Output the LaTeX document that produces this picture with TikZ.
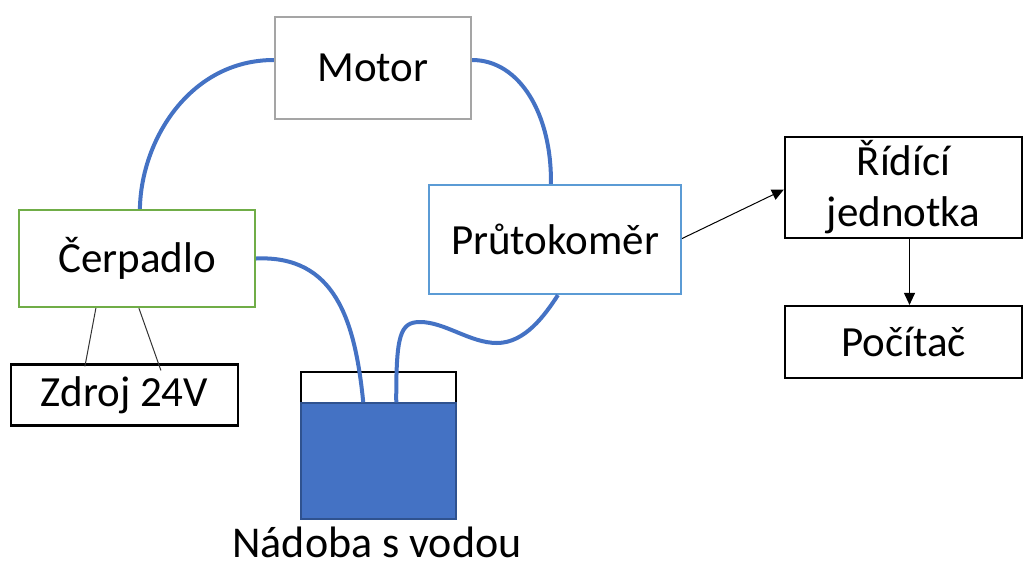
\documentclass[tikz,border=0pt]{standalone}
\usepackage{fontspec}
\setmainfont{Carlito}
\usetikzlibrary{calc,arrows.meta}
\definecolor{pipe}{HTML}{4472C4}
\definecolor{motorgray}{HTML}{A5A5A5}
\definecolor{pumpgreen}{HTML}{70AD47}
\definecolor{flowblue}{HTML}{5B9BD5}
\definecolor{waterborder}{HTML}{2F528F}
\begin{document}
\begin{tikzpicture}[x=1pt,y=-1pt,
  box/.style={draw, line width=2.2pt, inner sep=0pt, align=center, font=\fontsize{43}{51}\selectfont},
  pipeline/.style={draw=pipe, line width=4pt},
  wire/.style={draw=black!80, line width=1pt},
  sig/.style={draw=black, line width=1pt, -{Triangle[length=12pt,width=11pt]}}]
\useasboundingbox (0,0) rectangle (1024,566);
\node[box, draw=motorgray, minimum width=196pt, minimum height=102pt] (motor) at (373,68) {Motor};
\node[box, draw=pumpgreen, minimum width=236pt, minimum height=97pt] (cerp) at (137,258.5) {Čerpadlo};
\node[box, minimum width=227pt, minimum height=61pt] (zdroj) at (124.5,395) {Zdroj 24V};
\node[box, draw=flowblue, minimum width=252pt, minimum height=109pt] (prut) at (555,239.5) {Průtokoměr};
\node[box, minimum width=237pt, minimum height=101pt] (ridici) at (903.5,187.5) {Řídící\\jednotka};
\node[box, minimum width=237pt, minimum height=72pt] (pocitac) at (903.5,342) {Počítač};
% tank
\node[draw=black, line width=2.2pt, fill=white, inner sep=0pt, minimum width=155pt, minimum height=31pt] (tanktop) at (378.5,387.5) {};
\node[draw=waterborder, line width=1.5pt, fill=pipe, inner sep=0pt, minimum width=155pt, minimum height=116pt] (water) at (378.5,461) {};
\node[font=\fontsize{44}{50}\selectfont, anchor=base, inner sep=0pt] (label) at (377,557) {Nádoba s vodou};
% pipes
\draw[pipeline] ($(cerp.north west)+(122,0)$) .. controls (141,140) and (190,60) .. ($(motor.west)+(0,-8)$);
\draw[pipeline] ($(motor.east)+(0,-8)$) .. controls (520,60) and (552,115) .. ($(prut.north west)+(123,0)$);
\draw[pipeline] ($(cerp.east)+(0,0)$) .. controls (335,255) and (355,320) .. ($(water.north west)+(63,0)$);
\draw[pipeline] ($(water.north west)+(96,0)$) .. controls (396,335) and (400,322) .. (420,322)
  .. controls (445,322) and (470,343) .. (497,343)
  .. controls (525,343) and (545,315) .. ($(prut.south west)+(130,0)$);
% wires
\draw[wire] ($(cerp.south west)+(78,0)$) -- ($(zdroj.north west)+(75,3)$);
\draw[wire] ($(cerp.south west)+(121,0)$) -- ($(zdroj.north west)+(151,7)$);
% signals
\draw[sig] ($(prut.east)+(0,-1)$) -- ($(ridici.west)+(0,2)$);
\draw[sig] ($(ridici.south)+(6,0)$) -- ($(pocitac.north)+(6,0)$);
\end{tikzpicture}
\end{document}
